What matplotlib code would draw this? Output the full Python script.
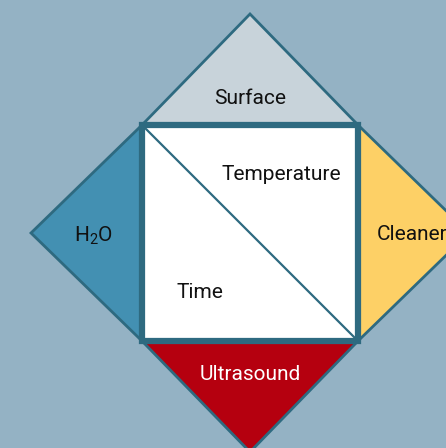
import matplotlib
matplotlib.use('Agg')
import matplotlib.pyplot as plt
from matplotlib.patches import Polygon

# factors around the square
labels = ['Surface', 'Cleaner', 'Ultrasound', '$\\mathregular{H_2O}$']
fills = ['#c8d3da', '#fdd066', '#b5000f', '#4390b2']
text_colors = ['#111111', '#111111', '#ffffff', '#111111']
inner_labels = ['Temperature', 'Time']

BG = '#94b2c4'
EDGE = '#2e6a80'
CX, CY = 250, 233
H = 108
FS = 15


def main():
    fig = plt.figure(figsize=(4.46, 4.48), dpi=100)
    fig.patch.set_facecolor(BG)
    ax = fig.add_axes([0, 0, 1, 1])
    ax.set_xlim(0, 446)
    ax.set_ylim(448, 0)
    ax.axis('off')

    tl, tr = (CX - H, CY - H), (CX + H, CY - H)
    br, bl = (CX + H, CY + H), (CX - H, CY + H)
    R = 2 * H + 3
    apex = [(CX, CY - R), (CX + R, CY), (CX, CY + R), (CX - R, CY)]
    bases = [(tl, tr), (tr, br), (br, bl), (bl, tl)]
    text_pos = [(CX, 99), (412, 235), (CX, 375), (93, 236)]

    for i, lab in enumerate(labels):
        a, b = bases[i]
        ax.add_patch(Polygon([a, apex[i], b], closed=True, facecolor=fills[i],
                             edgecolor=EDGE, linewidth=2, joinstyle='miter'))
        ax.text(text_pos[i][0], text_pos[i][1], lab, color=text_colors[i],
                fontsize=FS, family='Roboto', ha='center', va='center')

    ax.add_patch(Polygon([tl, tr, br, bl], closed=True, facecolor='white',
                         edgecolor=EDGE, linewidth=4.5, joinstyle='miter', zorder=3))
    ax.plot([tl[0] + 2, br[0] - 2], [tl[1] + 2, br[1] - 2], color=EDGE, lw=1.6, zorder=4)

    ax.text(281, 174, inner_labels[0], fontsize=FS, family='Roboto',
            color='#111111', ha='center', va='center', zorder=5)
    ax.text(200, 292, inner_labels[1], fontsize=FS, family='Roboto',
            color='#111111', ha='center', va='center', zorder=5)

    fig.savefig('out.png', dpi=100, facecolor=BG)


if __name__ == '__main__':
    main()
